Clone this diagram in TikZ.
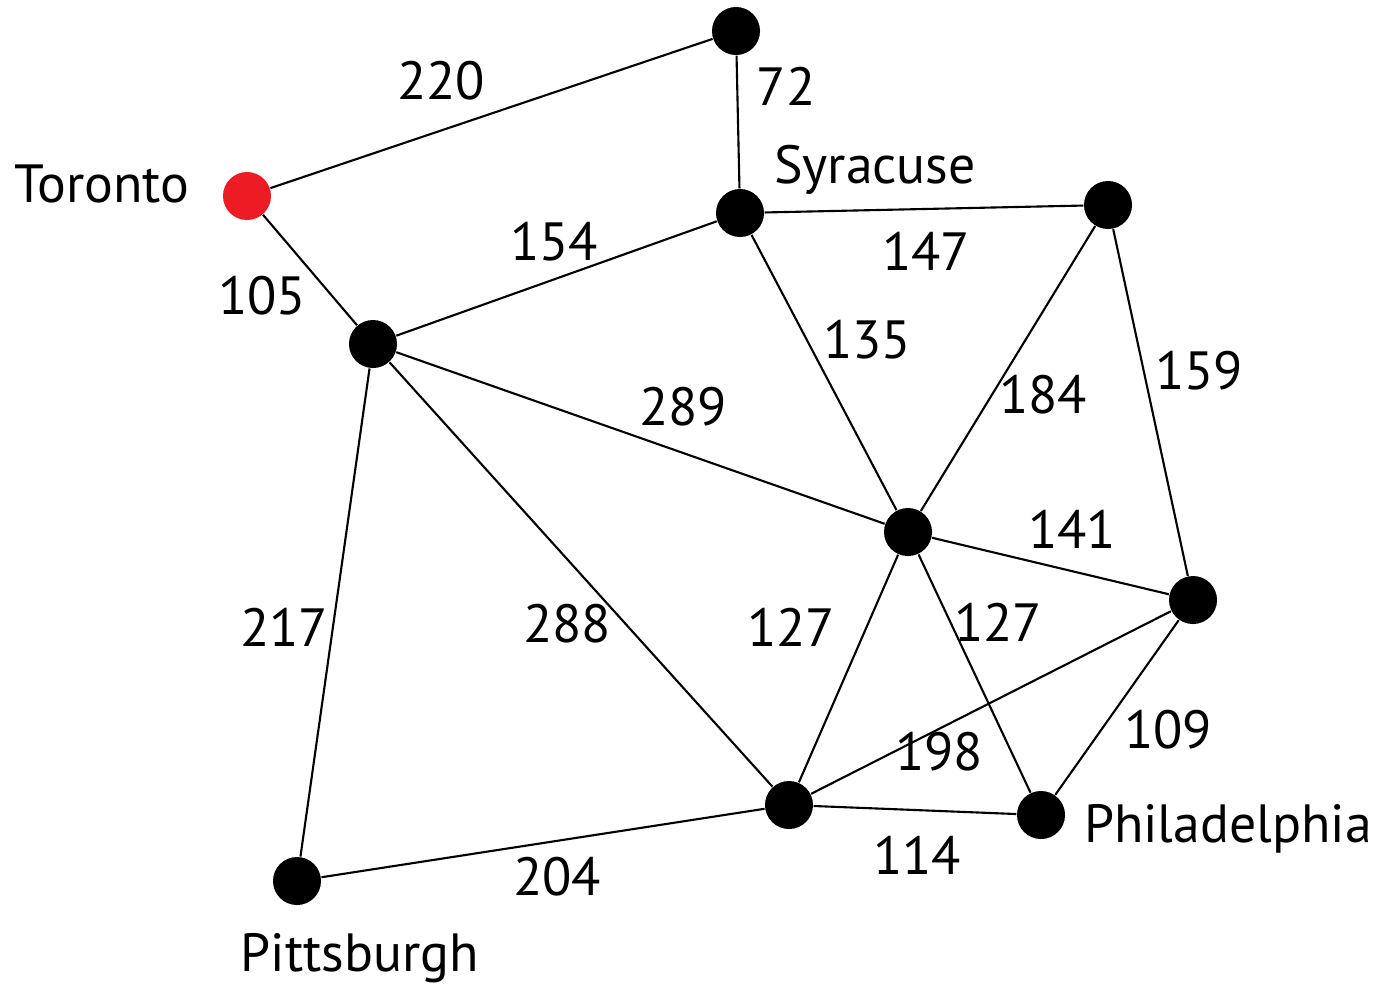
\documentclass[tikz,border=0pt]{standalone}
\usepackage{fontspec}
\setmainfont{PT Sans}
\begin{document}
\begin{tikzpicture}[x=0.01cm,y=-0.01cm,
  city/.style={circle,fill=black,inner sep=0pt,minimum size=0.48cm},
  edge/.style={draw=black,line width=0.6pt},
  lbl/.style={font=\fontsize{15.3}{17}\selectfont,inner sep=0pt}]
\useasboundingbox (0,0) rectangle (1373,987);
\node[city] (top) at (736,31) {};
\node[city,fill={rgb,255:red,237;green,28;blue,36}] (tor) at (247,196) {};
\node[city] (syr) at (740,213) {};
\node[city] (rt) at (1108,205) {};
\node[city] (a) at (373,344) {};
\node[city] (c) at (908,532) {};
\node[city] (r) at (1193,600) {};
\node[city] (b) at (789,805) {};
\node[city] (phi) at (1041,815) {};
\node[city] (pit) at (297,881) {};
\draw[edge] (tor) -- (top);
\draw[edge] (top) -- (syr);
\draw[edge] (tor) -- (a);
\draw[edge] (a) -- (syr);
\draw[edge] (syr) -- (rt);
\draw[edge] (syr) -- (c);
\draw[edge] (rt) -- (c);
\draw[edge] (rt) -- (r);
\draw[edge] (a) -- (c);
\draw[edge] (a) -- (pit);
\draw[edge] (a) -- (b);
\draw[edge] (c) -- (r);
\draw[edge] (c) -- (b);
\draw[edge] (c) -- (phi);
\draw[edge] (r) -- (b);
\draw[edge] (r) -- (phi);
\draw[edge] (b) -- (phi);
\draw[edge] (pit) -- (b);
\node[lbl] (l220) at (441,81) {220};
\node[lbl] (l72) at (786,86) {72};
\node[lbl] (ltor) at (102,184) {Toronto};
\node[lbl] (lsyr) at (875,170) {Syracuse};
\node[lbl] (l154) at (554,242) {154};
\node[lbl] (l147) at (926,251) {147};
\node[lbl] (l105) at (262,296) {105};
\node[lbl] (l135) at (867,340) {135};
\node[lbl] (l184) at (1043,395) {184};
\node[lbl] (l159) at (1199,371) {159};
\node[lbl] (l289) at (683,407) {289};
\node[lbl] (l141) at (1072,529) {141};
\node[lbl] (l217) at (284,627) {217};
\node[lbl] (l288) at (567,624) {288};
\node[lbl] (l127a) at (791,627) {127};
\node[lbl] (l127b) at (998,622) {127};
\node[lbl] (l109) at (1168,730) {109};
\node[lbl] (l198) at (939,752) {198};
\node[lbl] (lphi) at (1228,829) {Philadelphia};
\node[lbl] (l114) at (917,855) {114};
\node[lbl] (l204) at (557,877) {204};
\node[lbl] (lpit) at (360,958) {Pittsburgh};
\end{tikzpicture}
\end{document}
